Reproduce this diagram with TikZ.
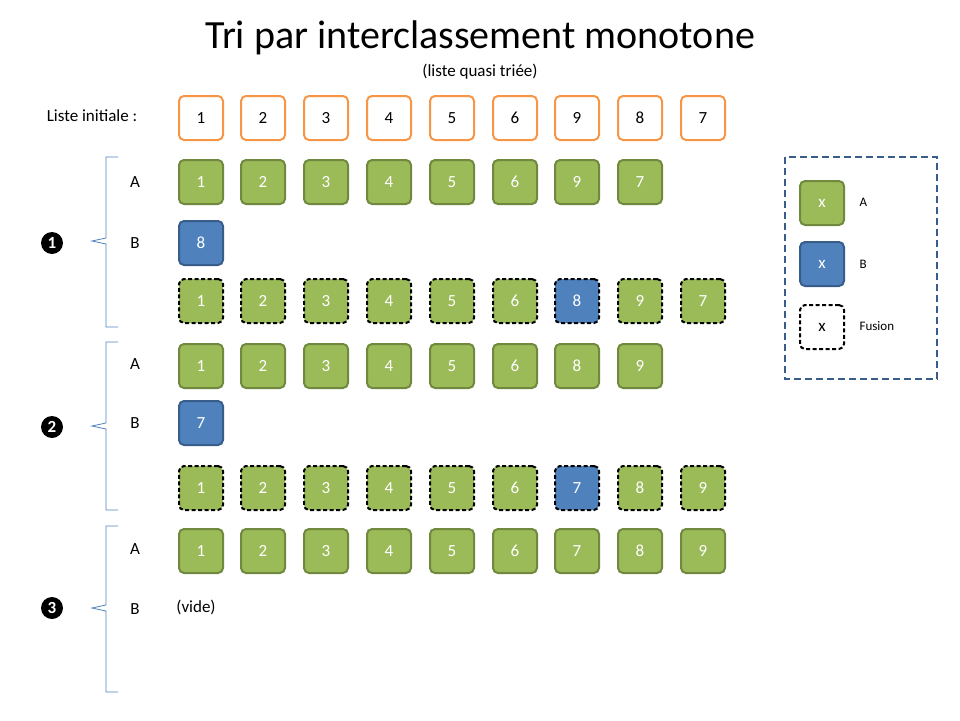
\documentclass[tikz,border=0pt]{standalone}
\usepackage{fontspec}
\setmainfont{Carlito}
\begin{document}
\begin{tikzpicture}[x=1pt,y=-1pt,
 box/.style={draw,rounded corners=5pt,minimum width=44pt,minimum height=44pt,line width=2pt,font=\fontsize{17}{17}\selectfont,inner sep=0pt},
 ini/.style={box,draw={rgb,255:red,247;green,150;blue,70},fill=white,text=black},
 ga/.style={box,draw={rgb,255:red,113;green,137;blue,63},fill={rgb,255:red,155;green,187;blue,89},text=white},
 gb/.style={box,draw={rgb,255:red,56;green,93;blue,138},fill={rgb,255:red,79;green,129;blue,189},text=white},
 fz/.style={box,draw=black,dashed,dash pattern=on 4pt off 2.5pt,fill={rgb,255:red,155;green,187;blue,89},text=white},
 fb/.style={fz,fill={rgb,255:red,79;green,129;blue,189}},
 lab/.style={font=\fontsize{17}{17}\selectfont},
 num/.style={circle,fill=black,text=white,inner sep=0pt,minimum size=22pt,font=\bfseries\fontsize{17}{17}\selectfont},
 brace/.style={draw={rgb,255:red,79;green,129;blue,189},line width=0.8pt}]
\useasboundingbox (0,0) rectangle (960,720);
\node (t) at (480,38) {\fontsize{40}{40}\selectfont Tri par interclassement monotone};
\node (st) at (480,72) {\fontsize{17}{17}\selectfont (liste quasi triée)};
\node[lab] (li) at (92,116) {Liste initiale :};
\def\xs{{201,263,326,389,452,515,577,640,703}}
\foreach \v [count=\i from 0] in {1,2,3,4,5,6,9,8,7}
 \node[ini] (i\i) at ({\xs[\i]},118) {\v};
% step 1
\foreach \v [count=\i from 0] in {1,2,3,4,5,6,9,7}
 \node[ga] (a1\i) at ({\xs[\i]},182) {\v};
\node[gb] (b1) at (201,243) {8};
\foreach \v/\s [count=\i from 0] in {1/fz,2/fz,3/fz,4/fz,5/fz,6/fz,8/fb,9/fz,7/fz}
 \node[\s] (f1\i) at ({\xs[\i]},301) {\v};
% step 2
\foreach \v [count=\i from 0] in {1,2,3,4,5,6,8,9}
 \node[ga] (a2\i) at ({\xs[\i]},366) {\v};
\node[gb] (b2) at (201,423) {7};
\foreach \v/\s [count=\i from 0] in {1/fz,2/fz,3/fz,4/fz,5/fz,6/fz,7/fb,8/fz,9/fz}
 \node[\s] (f2\i) at ({\xs[\i]},488) {\v};
% step 3
\foreach \v [count=\i from 0] in {1,2,3,4,5,6,7,8,9}
 \node[ga] (a3\i) at ({\xs[\i]},551) {\v};
\node[lab] (vide) at (196,607) {(vide)};
% labels
\foreach \y/\l [count=\k] in {182/A1,243/B1,364/A2,423/B2,549/A3,609/B3}
 \node[lab] (L\k) at (135,\y) {\pgfmathparse{\k}\ifodd\k A\else B\fi};
\node[num] (n1) at (52,243) {1};
\node[num] (n2) at (52,427) {2};
\node[num] (n3) at (52,608) {3};
\foreach \a/\b/\m in {157/327/241,342/510/426,526/692/608}{
 \draw[brace] (118,\a) -- (106,\a) -- (106,\m-3) -- (92,\m) -- (106,\m+3) -- (106,\b) -- (118,\b);
}
% legend
\draw[dashed,dash pattern=on 7pt off 4pt,line width=2pt,draw={rgb,255:red,56;green,93;blue,138}] (785,157) rectangle (937,379);
\node[ga] (lg1) at (822,203) {x};
\node[gb] (lg2) at (822,264) {x};
\node[fz,fill=white,text=black] (lg3) at (822,327) {x};
\node[anchor=west,font=\fontsize{13}{13}\selectfont] (lt1) at (856,202) {A};
\node[anchor=west,font=\fontsize{13}{13}\selectfont] (lt2) at (856,264) {B};
\node[anchor=west,font=\fontsize{13}{13}\selectfont] (lt3) at (856,326) {Fusion};
\end{tikzpicture}
\end{document}
